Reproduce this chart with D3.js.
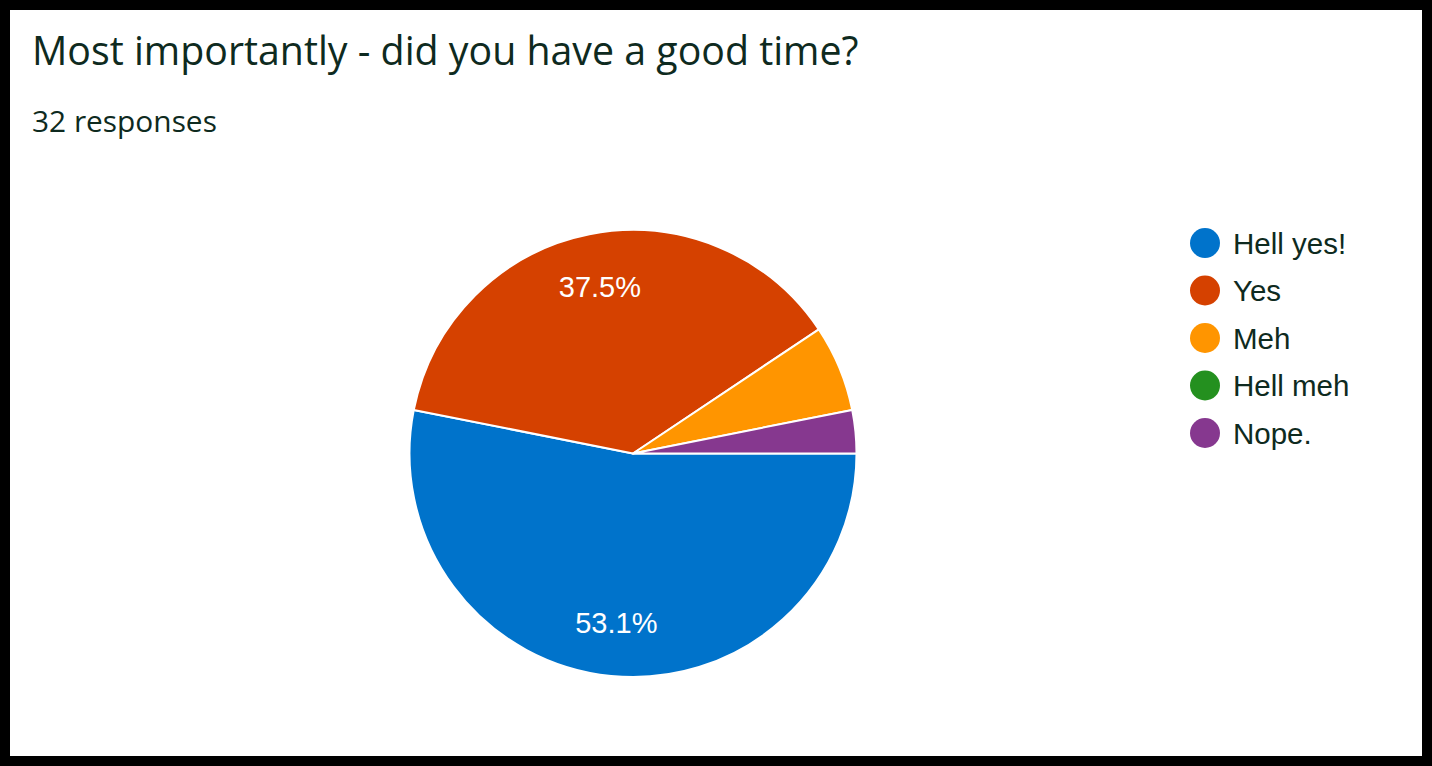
<!DOCTYPE html>
<html>
<head>
<meta charset="utf-8">
<script src="https://cdn.jsdelivr.net/npm/d3@7"></script>
<style>
  html, body { margin: 0; padding: 0; background: #000; }
  svg { display: block; }
</style>
</head>
<body>
<svg id="chart"></svg>
<script>
// survey answers, in legend order
const answers = ["Hell yes!", "Yes", "Meh", "Hell meh", "Nope."];
const counts = [17, 12, 2, 0, 1];
const colors = ["#0073cb", "#d54100", "#ff9500", "#24901f", "#86388f"];
const title = "Most importantly - did you have a good time?";
const subtitle = "32 responses";

const width = 1432, height = 766;
const total = d3.sum(counts);

const svg = d3.select("#chart")
    .attr("width", width)
    .attr("height", height);

// white card inside black frame
svg.append("rect")
    .attr("x", 10).attr("y", 10)
    .attr("width", width - 20).attr("height", height - 20)
    .attr("fill", "#fff");

const ink = "#0e2a20";

// title + subtitle, sized to the widths in the picture
function fitText(sel, target) {
    let fs = +sel.attr("font-size");
    const w = sel.node().getComputedTextLength();
    sel.attr("font-size", fs * target / w);
}

const t = svg.append("text")
    .attr("x", 32).attr("y", 65)
    .attr("font-family", "'Open Sans', sans-serif")
    .attr("font-size", 34)
    .attr("fill", ink)
    .text(title);
fitText(t, 827);

const st = svg.append("text")
    .attr("x", 32).attr("y", 132)
    .attr("font-family", "'Open Sans', sans-serif")
    .attr("font-size", 26)
    .attr("fill", ink)
    .text(subtitle);
fitText(st, 185);

// pie
const cx = 633, cy = 453.5, r = 223.5;

const pie = d3.pie()
    .sort(null)
    .value(d => d.count)
    .startAngle(Math.PI / 2)
    .endAngle(Math.PI / 2 + 2 * Math.PI);

const rows = answers.map((a, i) => ({name: a, count: counts[i], color: colors[i]}));
const arcs = pie(rows);

const arc = d3.arc().innerRadius(0).outerRadius(r);
const labelArc = d3.arc().innerRadius(r * 0.76).outerRadius(r * 0.76);

const g = svg.append("g")
    .attr("transform", `translate(${cx},${cy})`);

g.selectAll("path")
    .data(arcs.filter(d => d.data.count > 0))
    .enter().append("path")
    .attr("d", arc)
    .attr("fill", d => d.data.color)
    .attr("stroke", "#fff")
    .attr("stroke-width", 2)
    .attr("stroke-linejoin", "round");

g.selectAll("text")
    .data(arcs.filter(d => d.data.count / total >= 0.1))
    .enter().append("text")
    .attr("transform", d => {
        const [x, y] = labelArc.centroid(d);
        return `translate(${x},${y + 10.5})`;
    })
    .attr("text-anchor", "middle")
    .attr("font-family", "'Liberation Sans', Arial, sans-serif")
    .attr("font-size", 29)
    .attr("fill", "#fff")
    .text(d => (d.data.count / total * 100).toFixed(1) + "%");

// legend
const ly = d3.scalePoint()
    .domain(answers)
    .range([243, 433]);

const legend = svg.append("g")
    .selectAll("g")
    .data(rows)
    .enter().append("g")
    .attr("transform", d => `translate(1205,${ly(d.name)})`);

legend.append("circle")
    .attr("r", 15)
    .attr("fill", d => d.color);

legend.append("text")
    .attr("x", 28)
    .attr("y", 10.5)
    .attr("font-family", "'Liberation Sans', Arial, sans-serif")
    .attr("font-size", 29.5)
    .attr("fill", ink)
    .text(d => d.name);
</script>
</body>
</html>
